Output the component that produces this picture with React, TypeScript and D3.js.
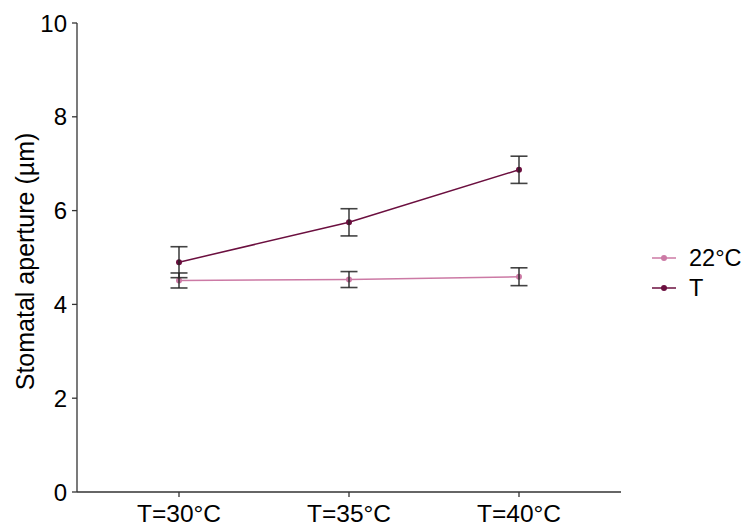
import React from "react";
import * as d3 from "d3";

const categories = ["T=30°C", "T=35°C", "T=40°C"];
const seriesNames = ["22°C", "T"];
const control22 = [4.51, 4.53, 4.59];
const control22Err = [0.16, 0.17, 0.19];
const treatT = [4.9, 5.75, 6.87];
const treatTErr = [0.33, 0.29, 0.29];
const yTicks = [0, 2, 4, 6, 8, 10];

const colors = ["#cc7aa5", "#6b0f3f"];
const font = "Arial, 'Liberation Sans', sans-serif";

export default function App() {
  const width = 750;
  const height = 527;
  const left = 77;
  const right = 621;
  const top = 23;
  const bottom = 492;

  const x = d3.scalePoint<string>().domain(categories).range([left, right]).padding(0.6);
  const y = d3.scaleLinear().domain([0, 10]).range([bottom, top]);

  const series = [
    { name: seriesNames[0], values: control22, errs: control22Err, color: colors[0] },
    { name: seriesNames[1], values: treatT, errs: treatTErr, color: colors[1] },
  ];

  const line = d3
    .line<number>()
    .x((_, i) => x(categories[i]) as number)
    .y((d) => y(d));

  return (
    <svg width={width} height={height} style={{ position: "absolute", left: 0, top: 0 }}>
      <rect width={width} height={height} fill="#fff" />
      {/* axes */}
      <line x1={left} x2={left} y1={top} y2={bottom} stroke="#333" strokeWidth={1.3} />
      <line x1={left} x2={right} y1={bottom} y2={bottom} stroke="#333" strokeWidth={1.3} />
      {yTicks.map((t) => (
        <g key={t}>
          <line x1={left - 5} x2={left} y1={y(t)} y2={y(t)} stroke="#333" strokeWidth={1.3} />
          <text x={left - 10} y={y(t)} dy="0.36em" textAnchor="end" fontFamily={font} fontSize={24} fill="#000">
            {t}
          </text>
        </g>
      ))}
      {categories.map((c) => (
        <g key={c}>
          <line x1={x(c)} x2={x(c)} y1={bottom} y2={bottom + 5} stroke="#333" strokeWidth={1.3} />
          <text x={x(c)} y={bottom + 30} textAnchor="middle" fontFamily={font} fontSize={24.5} fill="#000">
            {c}
          </text>
        </g>
      ))}
      <text
        transform={`translate(34,${(top + bottom) / 2 + 4}) rotate(-90)`}
        textAnchor="middle"
        fontFamily={font}
        fontSize={25}
        fill="#000"
      >
        Stomatal aperture (µm)
      </text>

      {/* series lines and points */}
      {series.map((s) => (
        <g key={s.name}>
          <path d={line(s.values) || ""} fill="none" stroke={s.color} strokeWidth={1.5} />
        </g>
      ))}
      {series.map((s) => (
        <g key={s.name + "-err"}>
          {s.values.map((v, i) => {
            const cx = x(categories[i]) as number;
            const y1 = y(v + s.errs[i]);
            const y2 = y(v - s.errs[i]);
            return (
              <g key={i}>
                <circle cx={cx} cy={y(v)} r={3} fill={s.color} />
                <line x1={cx} x2={cx} y1={y1} y2={y2} stroke="#222" strokeWidth={1.6} strokeOpacity={0.85} />
                <line x1={cx - 8.5} x2={cx + 8.5} y1={y1} y2={y1} stroke="#222" strokeWidth={1.6} strokeOpacity={0.85} />
                <line x1={cx - 8.5} x2={cx + 8.5} y1={y2} y2={y2} stroke="#222" strokeWidth={1.6} strokeOpacity={0.85} />
              </g>
            );
          })}
        </g>
      ))}

      {/* legend */}
      {series.map((s, i) => {
        const ly = 258 + i * 30;
        return (
          <g key={s.name + "-leg"}>
            <line x1={652} x2={676} y1={ly} y2={ly} stroke={s.color} strokeWidth={1.5} />
            <circle cx={664} cy={ly} r={3} fill={s.color} />
            <text x={689} y={ly} dy="0.36em" fontFamily={font} fontSize={23.5} fill="#000">
              {s.name}
            </text>
          </g>
        );
      })}
    </svg>
  );
}
